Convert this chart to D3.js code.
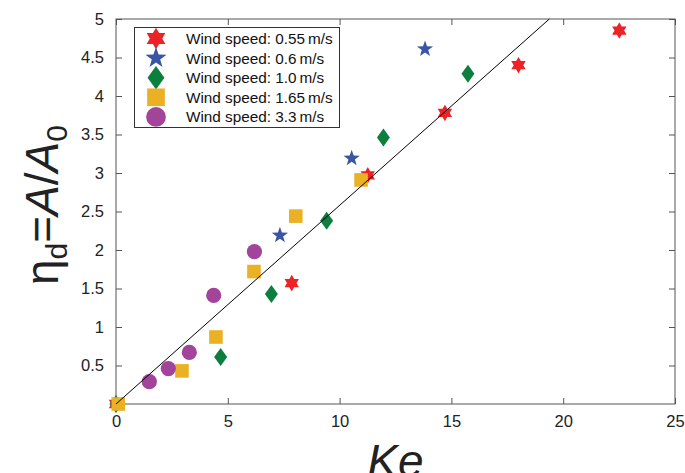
<!DOCTYPE html>
<html>
<head>
	<meta charset="utf-8" />
	<script src="https://cdn.jsdelivr.net/npm/d3@7/dist/d3.min.js"></script>
	<style type="text/css">
	body { margin: 0; background: #fff; }
	svg { display: block; font-family: "Liberation Sans", Arial, sans-serif; }
	.axis path { stroke: none; }
	.axis line { stroke: #555; }
	.axis text { font-size: 16.5px; fill: #222; font-family: "Liberation Sans", Arial, sans-serif; }
	</style>
</head>
<body>
	<svg width="685" height="473"></svg>

	<script type="text/javascript">
		// 数据
		var v_Series   = ["Wind speed: 0.55\u2009m/s", "Wind speed: 0.6\u2009m/s", "Wind speed: 1.0\u2009m/s", "Wind speed: 1.65\u2009m/s", "Wind speed: 3.3\u2009m/s"];
		var v_X055     = [0, 7.86, 11.26, 14.71, 18.0, 22.51];
		var v_Y055     = [0, 1.57, 2.97, 3.78, 4.40, 4.85];
		var v_X06      = [7.33, 10.54, 13.82];
		var v_Y06      = [2.19, 3.19, 4.61];
		var v_X10      = [0, 4.68, 6.95, 9.42, 11.96, 15.74];
		var v_Y10      = [0, 0.61, 1.43, 2.38, 3.46, 4.29];
		var v_X165     = [0.1, 2.95, 4.47, 6.17, 8.04, 10.96];
		var v_Y165     = [0, 0.43, 0.87, 1.72, 2.44, 2.91];
		var v_X33      = [1.49, 2.34, 3.28, 4.37, 6.19];
		var v_Y33      = [0.29, 0.46, 0.67, 1.41, 1.98];
		var v_XTicks   = [0, 5, 10, 15, 20, 25];
		var v_YTicks   = [0.5, 1, 1.5, 2, 2.5, 3, 3.5, 4, 4.5, 5];
		var v_Slope    = 0.258;   // 拟合直线 y = k * x

		var v_Colors   = ["#ec2227", "#3a55a4", "#0c7f3e", "#ebb124", "#a2449a"];
		var v_Shapes   = ["hexagram", "pentagram", "diamond", "square", "circle"];

		var v_Padding  = {top: 19, right: 10, bottom: 69, left: 116};
		var v_SVG      = d3.select("svg");
		var v_W        = 685 - v_Padding.left - v_Padding.right;
		var v_H        = 473 - v_Padding.top - v_Padding.bottom;

		var v_xScale   = d3.scaleLinear().domain([0, 25]).range([v_Padding.left, v_Padding.left + v_W]);
		var v_yScale   = d3.scaleLinear().domain([0, 5]).range([v_Padding.top + v_H, v_Padding.top]);


		// 星形（n 个角）
		function f_Star(n, R, r)
		{
			var v_P = d3.path();
			for (var i = 0; i < n * 2; i++)
			{
				var v_A   = -Math.PI / 2 + i * Math.PI / n;
				var v_Rad = (i % 2 == 0) ? R : r;
				if (i == 0) v_P.moveTo(v_Rad * Math.cos(v_A), v_Rad * Math.sin(v_A));
				else        v_P.lineTo(v_Rad * Math.cos(v_A), v_Rad * Math.sin(v_A));
			}
			v_P.closePath();
			return v_P.toString();
		}

		// 标记形状，k 为放大系数
		function f_Marker(i_Shape, k)
		{
			if (i_Shape == "hexagram")  return f_Star(6, 8.3 * k, 8.3 * k * 0.577);
			if (i_Shape == "pentagram") return f_Star(5, 8.5 * k, 8.5 * k * 0.40);
			if (i_Shape == "diamond")
			{
				var w = 6.5 * k, h = 9 * k;
				return "M0," + (-h) + "L" + w + ",0L0," + h + "L" + (-w) + ",0Z";
			}
			if (i_Shape == "square")
			{
				var s = 6.8 * k;
				return "M" + (-s) + "," + (-s) + "H" + s + "V" + s + "H" + (-s) + "Z";
			}
			return d3.symbol().type(d3.symbolCircle).size(Math.PI * Math.pow(7.6 * k, 2))();
		}


		// 坐标框与刻度（刻度朝内）
		v_SVG.append("g").attr("class", "axis")
			.attr("transform", "translate(0," + (v_Padding.top + v_H) + ")")
			.call(d3.axisBottom(v_xScale).tickValues(v_XTicks).tickSize(-6).tickPadding(11).tickFormat(d3.format("d")));
		v_SVG.append("g").attr("class", "axis")
			.attr("transform", "translate(0," + v_Padding.top + ")")
			.call(d3.axisTop(v_xScale).tickValues(v_XTicks).tickSize(-6).tickFormat(""));
		v_SVG.append("g").attr("class", "axis")
			.attr("transform", "translate(" + v_Padding.left + ",0)")
			.call(d3.axisLeft(v_yScale).tickValues(v_YTicks).tickSize(-6).tickPadding(12).tickFormat(d3.format("")));
		v_SVG.append("g").attr("class", "axis")
			.attr("transform", "translate(" + (v_Padding.left + v_W) + ",0)")
			.call(d3.axisRight(v_yScale).tickValues(v_YTicks).tickSize(-6).tickFormat(""));

		v_SVG.append("rect")
			.attr("x", v_Padding.left).attr("y", v_Padding.top)
			.attr("width", v_W).attr("height", v_H)
			.attr("fill", "none").attr("stroke", "#555").attr("stroke-width", 1);


		// 数据点
		var v_AllX = [v_X055, v_X06, v_X10, v_X165, v_X33];
		var v_AllY = [v_Y055, v_Y06, v_Y10, v_Y165, v_Y33];

		v_AllX.forEach(function(i_Xs, s)
		{
			v_SVG.append("g").selectAll("path")
				.data(i_Xs.map(function(d, i) { return [d, v_AllY[s][i]]; }))
				.enter().append("path")
				.attr("d", f_Marker(v_Shapes[s], 1))
				.attr("fill", v_Colors[s])
				.attr("transform", function(d)
				{
					return "translate(" + v_xScale(d[0]) + "," + v_yScale(d[1]) + ")";
				});
		});


		// 拟合直线（画在点上面）
		var v_XEnd = 5 / v_Slope;
		v_SVG.append("line")
			.attr("x1", v_xScale(0)).attr("y1", v_yScale(0))
			.attr("x2", v_xScale(v_XEnd)).attr("y2", v_yScale(v_Slope * v_XEnd))
			.attr("stroke", "#000").attr("stroke-width", 1);


		// 图例
		var v_Legend = v_SVG.append("g");
		v_Legend.append("rect")
			.attr("x", 134.5).attr("y", 27.5).attr("width", 205).attr("height", 100)
			.attr("fill", "#fff").attr("stroke", "#333").attr("stroke-width", 1);

		var v_Rows = v_Legend.selectAll("g.row").data(v_Series).enter().append("g")
			.attr("class", "row")
			.attr("transform", function(d, i) { return "translate(0," + (38.5 + i * 19.6) + ")"; });
		v_Rows.append("path")
			.attr("d", function(d, i) { return f_Marker(v_Shapes[i], 1.3); })
			.attr("fill", function(d, i) { return v_Colors[i]; })
			.attr("transform", "translate(156,0)");
		v_Rows.append("text")
			.attr("x", 186).attr("dy", "0.36em")
			.attr("font-size", "15.3px").attr("fill", "#111")
			.text(function(d) { return d; });


		// 坐标轴标题
		v_SVG.append("text")
			.attr("x", v_xScale(12.5)).attr("y", 477)
			.attr("text-anchor", "middle")
			.attr("font-size", "46px").attr("font-style", "italic").attr("fill", "#222")
			.text("Ke");

		var v_YLabel = v_SVG.append("text")
			.attr("transform", "translate(58,205) rotate(-90)")
			.attr("text-anchor", "middle")
			.attr("font-size", "46px").attr("fill", "#222");
		v_YLabel.append("tspan").text("η");
		v_YLabel.append("tspan").attr("font-size", "30px").attr("dy", 9).text("d");
		v_YLabel.append("tspan").attr("dy", -9).text("=");
		v_YLabel.append("tspan").attr("font-style", "italic").text("A");
		v_YLabel.append("tspan").text("/");
		v_YLabel.append("tspan").attr("font-style", "italic").text("A");
		v_YLabel.append("tspan").attr("font-size", "30px").attr("dy", 9).text("0");
	</script>
</body>
</html>
